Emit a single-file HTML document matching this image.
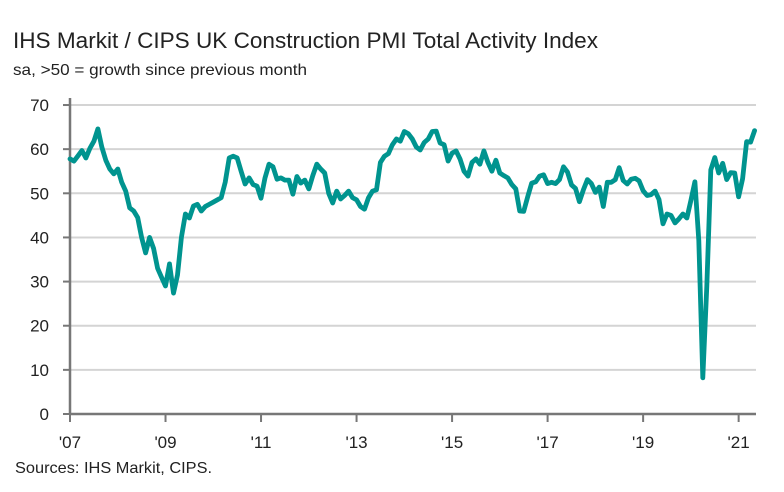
<!DOCTYPE html>
<html><head><meta charset="utf-8"><style>
body{margin:0;background:#fff;}
svg text{font-family:"Liberation Sans",sans-serif;}
</style></head><body>
<svg width="784" height="487">
<text x="13" y="48" font-size="22.5" fill="#222" textLength="585" lengthAdjust="spacingAndGlyphs">IHS Markit / CIPS UK Construction PMI Total Activity Index</text>
<text x="13" y="75" font-size="16" fill="#222" textLength="294" lengthAdjust="spacingAndGlyphs">sa, &gt;50 = growth since previous month</text>
<g id="grid"></g>
<g id="axes"></g>
<path id="line" fill="none" stroke="#00948f" stroke-width="4.8" stroke-linejoin="round" stroke-linecap="round"/>
<text x="15" y="473" font-size="16" fill="#222" textLength="197" lengthAdjust="spacingAndGlyphs">Sources: IHS Markit, CIPS.</text>
</svg>
<script>
const yTicks=[0,10,20,30,40,50,60,70];
const xTickLabels=["'07","'09","'11","'13","'15","'17","'19","'21"];
const pmi2007=[57.8,57.3,58.5,59.7,58.0,60.2,61.8,64.6,60.5,57.5,55.5,54.4];
const pmi2008=[55.5,52.5,50.5,46.7,46.0,44.5,40.0,36.5,40.0,37.5,33.0,31.0];
const pmi2009=[29.0,34.0,27.4,31.5,40.0,45.3,44.4,47.1,47.5,46.0,47.0,47.5];
const pmi2010=[48.0,48.5,49.0,52.5,58.0,58.4,58.0,55.0,52.1,53.5,52.0,51.6];
const pmi2011=[48.9,53.5,56.6,56.0,53.2,53.5,53.0,53.0,49.8,53.8,52.3,53.0];
const pmi2012=[51.0,54.0,56.6,55.5,54.6,50.0,47.8,50.5,48.7,49.5,50.5,49.0];
const pmi2013=[48.5,47.0,46.4,49.0,50.5,50.8,57.0,58.4,59.0,61.0,62.3,61.8];
const pmi2014=[64.0,63.5,62.3,60.5,59.8,61.5,62.3,64.0,64.1,61.4,61.0,57.3];
const pmi2015=[59.1,59.6,57.8,55.0,53.9,57.0,57.8,56.6,59.6,57.0,55.0,57.5];
const pmi2016=[54.6,54.0,53.5,52.0,51.0,46.0,45.9,49.2,52.3,52.6,53.9,54.2];
const pmi2017=[52.2,52.5,52.2,53.1,56.0,54.8,51.9,51.1,48.1,50.8,53.1,52.2];
const pmi2018=[50.2,51.4,47.0,52.5,52.5,53.1,55.8,52.9,52.1,53.2,53.4,52.8];
const pmi2019=[50.6,49.5,49.7,50.5,48.6,43.1,45.3,45.0,43.3,44.2,45.3,44.4];
const pmi2020=[48.4,52.6,39.3,8.2,28.9,55.3,58.1,54.6,56.8,53.1,54.7,54.6];
const pmi2021=[49.2,53.3,61.7,61.6,64.2];
const values=[].concat(pmi2007,pmi2008,pmi2009,pmi2010,pmi2011,pmi2012,pmi2013,pmi2014,pmi2015,pmi2016,pmi2017,pmi2018,pmi2019,pmi2020,pmi2021);
const X0=70,MW=3.98,Y0=414,UY=4.414;
const xs=m=>X0+m*MW, ys=v=>Y0-v*UY;
const NS="http://www.w3.org/2000/svg";
const grid=document.getElementById('grid'),axes=document.getElementById('axes');
function mk(tag,attrs,parent){const e=document.createElementNS(NS,tag);for(const k in attrs)e.setAttribute(k,attrs[k]);parent.appendChild(e);return e;}
yTicks.forEach(v=>{
  if(v>0){const g=mk('line',{x1:70,x2:756,y1:ys(v),y2:ys(v),stroke:'#d4d4d4','stroke-width':2},grid);
  
  }
  const t=mk('line',{x1:63,x2:70,y1:ys(v),y2:ys(v),stroke:'#777','stroke-width':2},axes);
  
  
  const l=mk('text',{x:49,y:ys(v)+6,'font-size':17,'text-anchor':'end',fill:'#222'},axes);l.textContent=v;
  
  
});
const ya=mk('line',{x1:70,x2:70,y1:98,y2:414,stroke:'#777','stroke-width':2.5},axes);


const xa=mk('line',{x1:69,x2:756,y1:414,y2:414,stroke:'#777','stroke-width':2.5},axes);


xTickLabels.forEach((s,i)=>{
  const x=xs(i*24);
  const t=mk('line',{x1:x,x2:x,y1:414,y2:422,stroke:'#777','stroke-width':2},axes);
  
  
  const l=mk('text',{x:x,y:448,'font-size':17,'text-anchor':'middle',fill:'#222'},axes);l.textContent=s;
  
  
});
document.getElementById('line').setAttribute('d',values.map((v,i)=>(i?'L':'M')+xs(i).toFixed(1)+','+ys(v).toFixed(1)).join(''));
</script>
</body></html>
